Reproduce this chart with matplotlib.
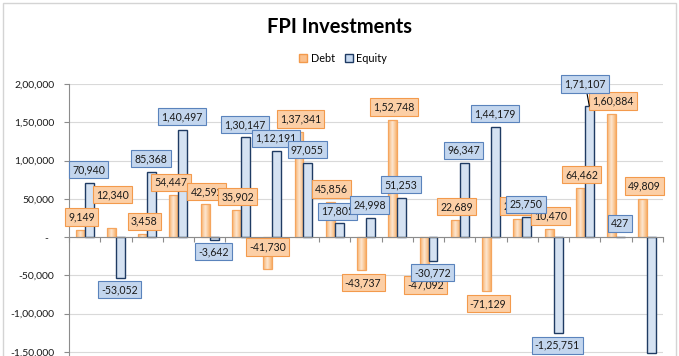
import numpy as np
import matplotlib.pyplot as plt
from matplotlib.colors import LinearSegmentedColormap
from matplotlib.patches import Patch, Rectangle

plt.rcParams['font.family'] = ['Lato', 'DejaVu Sans']

# FPI flows, one group per period
debt = [9149, 12340, 3458, 54447, 42592, 35902, -41730, 137341, 45856, -43737,
        152748, -47092, 22689, -71129, 23350, 10470, 64462, 160884, 49809]
equity = [70940, -53052, 85368, 140497, -3642, 130147, 112191, 97055, 17805, 24998,
          51253, -30772, 96347, 144179, 25750, -125751, 171107, 427, -151600]
y_ticks = [-150000, -100000, -50000, 0, 50000, 100000, 150000, 200000]

# label nudges in pixels (dx, dy) where Excel's callouts were moved by hand
debt_nudge = {1: (1, 33), 3: (-3, 13), 6: (0, 22)}
equity_nudge = {8: (-2, 12), 16: (-4, 22)}

Y_MIN, Y_MAX = -155000, 200000
W = 0.286


def indian(v, pos=None):
    if v == 0:
        return '-  '
    sign = '-' if v < 0 else ''
    s = str(int(round(abs(v))))
    if len(s) > 3:
        head, tail = s[:-3], s[-3:]
        parts = []
        while len(head) > 2:
            parts.insert(0, head[-2:])
            head = head[:-2]
        if head:
            parts.insert(0, head)
        s = ','.join(parts + [tail])
    return sign + s


fig = plt.figure(figsize=(6.79, 3.56), dpi=100)
ax = fig.add_axes([69 / 679, 0.0011, 594 / 679, 0.7629])

x = np.arange(len(debt))

# debt bars: orange with a light centre
d_bars = ax.bar(x - W / 2, debt, W, facecolor='none', edgecolor='#F5A55E',
                linewidth=0.9, zorder=2.2)
cmap = LinearSegmentedColormap.from_list('debt', ['#F8B26C', '#FDE5CF'])
grad = 1 - np.abs(np.linspace(-1, 1, 64))
for b in d_bars:
    bx, by, bw, bh = b.get_x(), b.get_y(), b.get_width(), b.get_height()
    y0, y1 = sorted([by, by + bh])
    im = ax.imshow(grad[np.newaxis, :], cmap=cmap, aspect='auto',
                   extent=[bx, bx + bw, y0, y1], zorder=2)
    im.set_clip_path(b)

e_bars = ax.bar(x + W / 2, equity, W, color='#D5E2F2', edgecolor='#1F3B63',
                linewidth=1.0, zorder=3)

ax.set_xlim(-0.5, len(debt) - 0.5)
ax.set_ylim(Y_MIN, Y_MAX)

units_per_px = (Y_MAX - Y_MIN) / (0.7629 * 356)


def put_labels(values, xs, nudges, face, edge, z, base_dx):
    for i, v in enumerate(values):
        dx, dy = nudges.get(i, (base_dx, 13 if v >= 0 else -12))
        if v + dy * units_per_px < Y_MIN + 8 * units_per_px:
            continue
        arrow = None
        if dy > 20 and v > 0 and v > 100000:
            arrow = dict(arrowstyle='-', color='black', lw=0.8,
                         shrinkA=0, shrinkB=0)
        ax.annotate(indian(v), xy=(xs[i], v), xytext=(dx * 0.72, dy * 0.72),
                    textcoords='offset points', ha='center', va='center',
                    fontsize=7.6, color='#1a1a1a', zorder=z, arrowprops=arrow,
                    bbox=dict(boxstyle='square,pad=0.3', facecolor=face,
                              edgecolor=edge, linewidth=0.8))


put_labels(debt, x - W / 2, debt_nudge, '#FCCFA6', '#F39A4C', 4, 1.5)
put_labels(equity, x + W / 2, equity_nudge, '#C3D6EE', '#5A83BC', 5, -0.7)

# axes styling
ax.set_yticks(y_ticks)
ax.yaxis.set_major_formatter(plt.FuncFormatter(indian))
ax.grid(axis='y', color='#D9D9D9', linewidth=0.8)
ax.set_axisbelow(True)
for side in ['top', 'right']:
    ax.spines[side].set_visible(False)
ax.spines['left'].set_color('#8C8C8C')
ax.spines['bottom'].set_position(('data', 0))
ax.spines['bottom'].set_color('#8C8C8C')
ax.spines['bottom'].set_zorder(3.5)
ax.set_xticks(np.arange(-0.5, len(debt), 1))
ax.tick_params(axis='x', direction='out', length=3.5, color='#8C8C8C',
               labelbottom=False)
ax.tick_params(axis='y', direction='out', length=3.5, color='#8C8C8C',
               labelsize=7.5, labelcolor='#1a1a1a', pad=7)

fig.text(0.5, 1 - 27 / 356, 'FPI Investments', ha='center', va='center',
         fontsize=14.5, fontweight='bold', color='black')

handles = [Patch(facecolor='#FBC08C', edgecolor='#F39A4C', label='Debt'),
           Patch(facecolor='#C6D9F1', edgecolor='#1F3B63', label='Equity')]
fig.legend(handles=handles, loc='center', bbox_to_anchor=(343 / 679, 1 - 58 / 356),
           ncol=2, frameon=False, fontsize=7.8, handlelength=0.75,
           handleheight=0.75, handletextpad=0.3, columnspacing=0.9)

fig.patches.append(Rectangle((2.5 / 679, -0.1), 673 / 679, 1.1 - 2.5 / 356,
                             transform=fig.transFigure, facecolor='none',
                             edgecolor='#D4D4D4', linewidth=1.0))

fig.savefig('out.png', dpi=100)
